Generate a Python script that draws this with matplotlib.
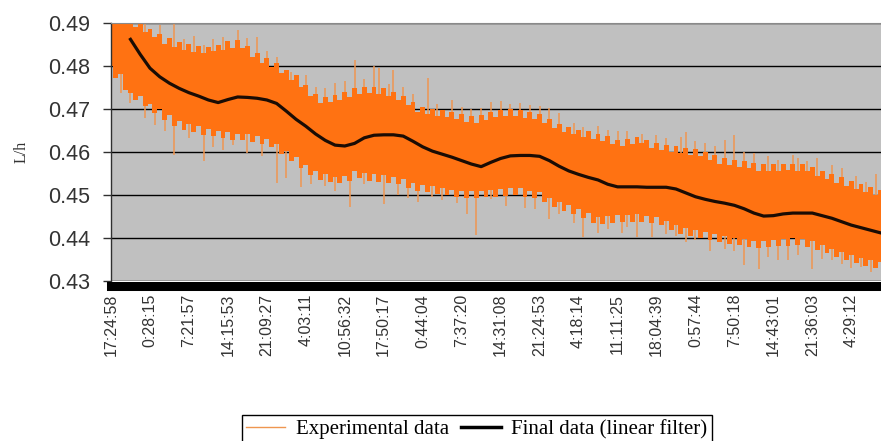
import numpy as np
import matplotlib
matplotlib.use("Agg")
import matplotlib.pyplot as plt
from matplotlib.lines import Line2D

plt.rcParams['font.family'] = ['Liberation Sans', 'DejaVu Sans']

# x axis: sample index, one label every 8 samples
time_labels = ['17:24:58', '0:28:15', '7:21:57', '14:15:53', '21:09:27',
               '4:03:11', '10:56:32', '17:50:17', '0:44:04', '7:37:20',
               '14:31:08', '21:24:53', '4:18:14', '11:11:25', '18:04:39',
               '0:57:44', '7:50:18', '14:43:01', '21:36:03', '4:29:12']
label_every = 8

# experimental data: max / min of the dense band per sample column
exp_high = [
    0.4920, 0.4915, 0.4918, 0.4905, 0.4912, 0.4890, 0.4899, 0.4880, 0.4885, 0.4868,
    0.4874, 0.4852, 0.4866, 0.4845, 0.4855, 0.4838, 0.4851, 0.4833, 0.4846, 0.4830,
    0.4845, 0.4834, 0.4850, 0.4838, 0.4858, 0.4842, 0.4860, 0.4843, 0.4846, 0.4822,
    0.4830, 0.4806, 0.4818, 0.4797, 0.4806, 0.4783, 0.4790, 0.4768, 0.4780, 0.4752,
    0.4756, 0.4730, 0.4735, 0.4713, 0.4729, 0.4716, 0.4733, 0.4720, 0.4740, 0.4729,
    0.4750, 0.4736, 0.4752, 0.4737, 0.4751, 0.4735, 0.4749, 0.4730, 0.4740, 0.4721,
    0.4731, 0.4710, 0.4716, 0.4694, 0.4704, 0.4688, 0.4701, 0.4684, 0.4697, 0.4681,
    0.4692, 0.4676, 0.4688, 0.4670, 0.4683, 0.4667, 0.4685, 0.4674, 0.4694, 0.4681,
    0.4698, 0.4684, 0.4699, 0.4683, 0.4698, 0.4680, 0.4693, 0.4677, 0.4688, 0.4668,
    0.4677, 0.4657, 0.4666, 0.4647, 0.4659, 0.4641, 0.4652, 0.4636, 0.4648, 0.4630,
    0.4643, 0.4626, 0.4637, 0.4618, 0.4629, 0.4614, 0.4631, 0.4618, 0.4635, 0.4620,
    0.4629, 0.4610, 0.4621, 0.4604, 0.4617, 0.4600, 0.4613, 0.4597, 0.4610, 0.4593,
    0.4607, 0.4590, 0.4601, 0.4581, 0.4592, 0.4573, 0.4586, 0.4569, 0.4582, 0.4566,
    0.4579, 0.4562, 0.4574, 0.4557, 0.4572, 0.4557, 0.4573, 0.4556, 0.4572, 0.4558,
    0.4573, 0.4556, 0.4571, 0.4557, 0.4565, 0.4545, 0.4557, 0.4537, 0.4548, 0.4529,
    0.4541, 0.4522, 0.4533, 0.4514, 0.4526, 0.4507, 0.4519, 0.4500, 0.4512]
exp_low = [
    0.4800, 0.4772, 0.4781, 0.4745, 0.4738, 0.4720, 0.4731, 0.4706, 0.4712, 0.4690,
    0.4699, 0.4674, 0.4686, 0.4660, 0.4671, 0.4652, 0.4664, 0.4646, 0.4660, 0.4640,
    0.4653, 0.4637, 0.4650, 0.4633, 0.4646, 0.4629, 0.4643, 0.4627, 0.4641, 0.4624,
    0.4637, 0.4619, 0.4630, 0.4612, 0.4618, 0.4596, 0.4603, 0.4580, 0.4588, 0.4563,
    0.4570, 0.4547, 0.4556, 0.4535, 0.4548, 0.4530, 0.4542, 0.4527, 0.4544, 0.4533,
    0.4556, 0.4540, 0.4552, 0.4533, 0.4548, 0.4531, 0.4546, 0.4528, 0.4541, 0.4525,
    0.4537, 0.4517, 0.4528, 0.4510, 0.4524, 0.4506, 0.4520, 0.4503, 0.4517, 0.4499,
    0.4512, 0.4495, 0.4510, 0.4494, 0.4509, 0.4493, 0.4510, 0.4495, 0.4512, 0.4496,
    0.4514, 0.4498, 0.4517, 0.4501, 0.4516, 0.4496, 0.4510, 0.4492, 0.4506, 0.4483,
    0.4494, 0.4472, 0.4484, 0.4463, 0.4476, 0.4456, 0.4468, 0.4446, 0.4457, 0.4436,
    0.4449, 0.4433, 0.4451, 0.4436, 0.4453, 0.4437, 0.4454, 0.4438, 0.4455, 0.4437,
    0.4452, 0.4434, 0.4448, 0.4430, 0.4440, 0.4418, 0.4430, 0.4410, 0.4424, 0.4405,
    0.4419, 0.4401, 0.4415, 0.4396, 0.4409, 0.4391, 0.4405, 0.4386, 0.4401, 0.4383,
    0.4398, 0.4378, 0.4393, 0.4376, 0.4392, 0.4379, 0.4396, 0.4381, 0.4398, 0.4382,
    0.4399, 0.4383, 0.4397, 0.4380, 0.4392, 0.4372, 0.4384, 0.4364, 0.4375, 0.4356,
    0.4367, 0.4349, 0.4360, 0.4341, 0.4353, 0.4336, 0.4348, 0.4331, 0.4344]

# isolated outliers above / below the band
spike_up_at = [3, 7, 10, 13, 15, 17, 19, 21, 23, 26, 28, 30, 32, 34, 37, 40, 42, 44,
               46, 48, 50, 52, 54, 55, 57, 58, 60, 62, 65, 67, 70, 72, 74, 76, 78, 80,
               82, 84, 86, 88, 90, 92, 95, 97, 100, 102, 104, 106, 109, 112, 114, 117,
               118, 120, 122, 124, 126, 128, 130, 132, 135, 137, 140, 141, 143, 145,
               148, 150, 153, 155, 157]
spike_up = [0.4925, 0.4900, 0.4895, 0.4900, 0.4862, 0.4870, 0.4850, 0.4862, 0.4868,
            0.4884, 0.4866, 0.4868, 0.4835, 0.4822, 0.4786, 0.4780, 0.4752, 0.4748,
            0.4760, 0.4765, 0.4814, 0.4770, 0.4800, 0.4795, 0.4758, 0.4791, 0.4752,
            0.4735, 0.4772, 0.4712, 0.4721, 0.4705, 0.4700, 0.4703, 0.4716, 0.4718,
            0.4712, 0.4714, 0.4709, 0.4706, 0.4702, 0.4690, 0.4668, 0.4658, 0.4660,
            0.4651, 0.4650, 0.4648, 0.4642, 0.4640, 0.4632, 0.4635, 0.4647, 0.4625,
            0.4622, 0.4615, 0.4628, 0.4640, 0.4600, 0.4598, 0.4590, 0.4581, 0.4593,
            0.4586, 0.4578, 0.4586, 0.4570, 0.4562, 0.4545, 0.4530, 0.4549]
spike_dn_at = [2, 4, 7, 9, 11, 13, 16, 19, 21, 23, 25, 28, 31, 34, 36, 39, 41, 44, 46,
               49, 52, 56, 59, 61, 63, 66, 68, 71, 73, 75, 78, 81, 85, 87, 90, 92, 95,
               97, 100, 102, 105, 106, 108, 111, 114, 116, 118, 120, 123, 126, 128,
               130, 133, 135, 137, 139, 141, 144, 146, 148, 150, 152, 154, 156]
spike_dn = [0.4737, 0.4715, 0.4679, 0.4663, 0.4650, 0.4593, 0.4633, 0.4579, 0.4612,
            0.4605, 0.4616, 0.4598, 0.4590, 0.4528, 0.4540, 0.4519, 0.4525, 0.4522,
            0.4510, 0.4472, 0.4525, 0.4479, 0.4500, 0.4492, 0.4484, 0.4495, 0.4488,
            0.4481, 0.4455, 0.4407, 0.4490, 0.4475, 0.4470, 0.4468, 0.4445, 0.4455,
            0.4435, 0.4402, 0.4412, 0.4422, 0.4412, 0.4425, 0.4402, 0.4402, 0.4410,
            0.4405, 0.4390, 0.4395, 0.4370, 0.4375, 0.4370, 0.4337, 0.4328, 0.4355,
            0.4350, 0.4349, 0.4360, 0.4328, 0.4352, 0.4350, 0.4340, 0.4330, 0.4333,
            0.4322]

# final data (linear filter), every 2nd sample starting at sample 4
filt_start, filt_step = 4, 2
filtered = [
    0.4862, 0.4827, 0.4795, 0.4775, 0.4760, 0.4748, 0.4738, 0.4730, 0.4721, 0.4715,
    0.4722, 0.4728, 0.4727, 0.4725, 0.4721, 0.4713, 0.4695, 0.4676, 0.4660, 0.4642,
    0.4627, 0.4616, 0.4614, 0.4620, 0.4633, 0.4639, 0.4640, 0.4640, 0.4637, 0.4625,
    0.4612, 0.4602, 0.4595, 0.4588, 0.4580, 0.4572, 0.4566, 0.4576, 0.4585, 0.4591,
    0.4592, 0.4592, 0.4590, 0.4580, 0.4567, 0.4556, 0.4548, 0.4541, 0.4535, 0.4525,
    0.4519, 0.4519, 0.4519, 0.4518, 0.4518, 0.4518, 0.4514, 0.4505, 0.4496, 0.4490,
    0.4485, 0.4481, 0.4476, 0.4468, 0.4458, 0.4451, 0.4452, 0.4456, 0.4458, 0.4458,
    0.4458, 0.4452, 0.4446, 0.4438, 0.4430, 0.4424, 0.4418, 0.4412]

orange = '#ff7212'
orange_thin = '#ef9650'

hi = np.array(exp_high)
lo = np.array(exp_low)
x = np.arange(len(hi))
xf = filt_start + filt_step * np.arange(len(filtered))

fig = plt.figure(figsize=(8.81, 4.41), dpi=100)
ax = fig.add_axes([0.126, 0.3628, 0.874, 0.585])
ax.set_facecolor('#c0c0c0')

# spines first: moving a spine resets the tick objects
ax.spines['right'].set_visible(False)
ax.spines['top'].set_color('#8a8a8a')
ax.spines['top'].set_linewidth(0.8)
ax.spines['left'].set_color('#303030')
ax.spines['left'].set_linewidth(1.0)
ax.spines['bottom'].set_color('black')
ax.spines['bottom'].set_linewidth(6.5)
ax.spines['bottom'].set_position(('outward', 3.25))

ax.fill_between(x, lo, hi, step='mid', color=orange, lw=0, zorder=2)
ax.vlines(spike_up_at, hi[spike_up_at], spike_up, color=orange_thin, lw=1.1, zorder=2)
ax.vlines(spike_dn_at, lo[spike_dn_at], spike_dn, color=orange_thin, lw=1.1, zorder=2)
ax.plot(xf, filtered, color='#1a0c04', lw=2.3, zorder=3)

ax.set_xlim(0, len(hi) - 0.9)
ax.set_ylim(0.43, 0.49)
yt = np.arange(0.43, 0.4905, 0.01)
ax.set_yticks(yt)
ax.set_yticklabels(['%.2f' % v for v in yt])
ax.yaxis.grid(True, color='black', lw=1.0)
ax.set_axisbelow(True)

ax.set_xticks(x[::label_every][:len(time_labels)])
ax.set_xticklabels(time_labels)

ax.tick_params(axis='y', direction='out', length=6, width=1, color='#303030',
               labelsize=15.5, labelcolor='#333333', pad=9)
ax.tick_params(axis='x', length=0, labelsize=11.5, labelcolor='#333333', pad=6,
               labelrotation=90)

ax.set_ylabel('L/h', family='Liberation Serif', fontsize=11.5, color='#333333',
              labelpad=13)

handles = [Line2D([], [], color=orange_thin, lw=1.0),
           Line2D([], [], color='black', lw=2.5)]
leg = fig.legend(handles, ['Experimental data', 'Final data (linear filter)'],
                 loc='upper center', bbox_to_anchor=(0.541, 0.058), ncol=2,
                 fancybox=False, edgecolor='black', framealpha=1,
                 prop={'family': 'Liberation Serif', 'size': 15},
                 borderpad=0.2, handlelength=1.9, handletextpad=0.5,
                 columnspacing=0.6, borderaxespad=0)
leg.get_frame().set_linewidth(1.0)

fig.savefig('out.png', dpi=100)
